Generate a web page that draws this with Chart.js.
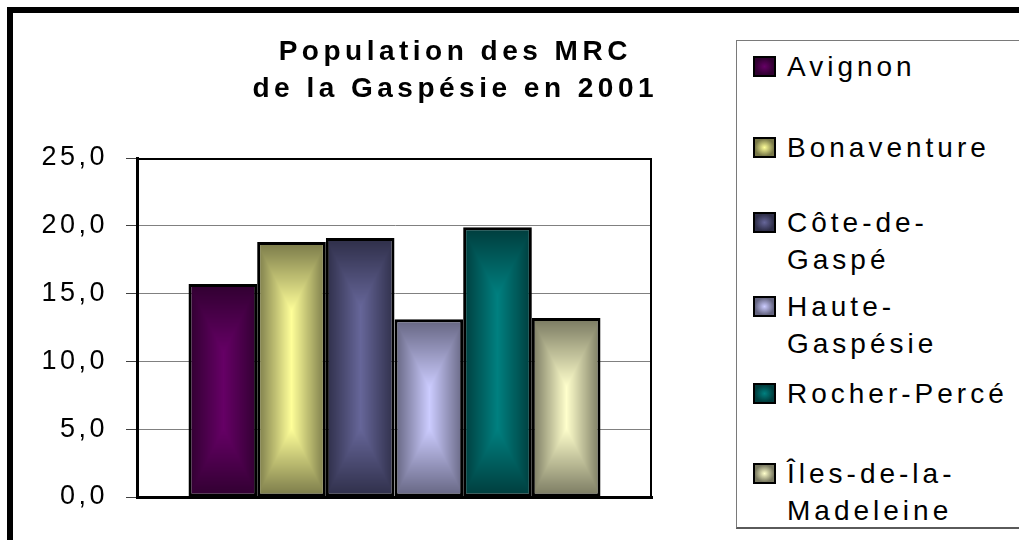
<!DOCTYPE html>
<html lang="fr">
<head>
<meta charset="utf-8">
<title>Population des MRC de la Gaspésie en 2001</title>
<script src="https://cdn.jsdelivr.net/npm/chart.js@4.4.1/dist/chart.umd.min.js"></script>
<style>
    html, body { margin: 0; padding: 0; background: #fff; overflow: hidden; }
    #wrap { position: relative; width: 1019px; height: 540px; overflow: hidden; background: #fff; }
    #chart { position: absolute; left: 0; top: 0; }
    #frame { position: absolute; left: 7px; top: 7px; width: 1100px; height: 600px; border: 6px solid #000; box-sizing: border-box; pointer-events: none; }
    #legend {
        position: absolute; left: 736px; top: 40px; width: 320px; height: 489px;
        border: 1px solid #7a7a7a; border-bottom: 2px solid #5a5a5a; box-sizing: border-box; background: #fff;
        font-family: "Liberation Sans", Arial, sans-serif; font-size: 28px; letter-spacing: 4px; color: #000;
    }
    .legend-item { position: absolute; left: 50px; width: 228px; line-height: 37px; }
    .legend-swatch { position: absolute; left: -34px; top: 8px; width: 23px; height: 21px; border: 2px solid #000; box-sizing: border-box; }
</style>
</head>
<body>
<div id="wrap">
    <canvas id="chart" width="1019" height="540"></canvas>
    <div id="legend"></div>
    <div id="frame"></div>
</div>
<script>
// --- data ---
const regions = ['Avignon', 'Bonaventure', 'Côte-de-Gaspé', 'Haute-Gaspésie', 'Rocher-Percé', 'Îles-de-la-Madeleine'];
const populationShare = [15.7, 18.8, 19.1, 13.1, 19.9, 13.2];
const yTicks = [0, 5, 10, 15, 20, 25];
const titleLines = ['Population des MRC', 'de la Gaspésie en 2001'];

// --- styles ---
const lightColors = [[102, 0, 102], [255, 255, 153], [102, 102, 153], [204, 204, 255], [0, 128, 128], [255, 255, 204]];
const darkColors = [[48, 0, 48], [120, 120, 72], [46, 46, 72], [100, 100, 128], [0, 60, 60], [120, 120, 96]];
const legendLineY = [66, 147, 222, 306, 393, 473]; // centre of first text line of each entry
const CAT_PCT = 0.8;

const rgb = c => `rgb(${c[0]},${c[1]},${c[2]})`;

// Excel style "from centre" shading, rebuilt for each bar from the scales
const patternCache = {};
function makeShade(ctx, i, w, h) {
    const key = i + ':' + w + ':' + h;
    if (patternCache[key]) return patternCache[key];
    const off = document.createElement('canvas');
    off.width = w; off.height = h;
    const octx = off.getContext('2d');
    const img = octx.createImageData(w, h);
    const lo = lightColors[i], hi = darkColors[i];
    const hw = w / 2;
    for (let y = 0; y < h; y++) {
        const edge = Math.min(y + 0.5, h - y - 0.5);
        const dy = Math.max(0, 1 - edge / w);
        for (let x = 0; x < w; x++) {
            const dx = Math.abs(x + 0.5 - hw) / hw;
            const t = Math.min(1, Math.max(dx, dy));
            const p = (y * w + x) * 4;
            img.data[p] = lo[0] + (hi[0] - lo[0]) * t;
            img.data[p + 1] = lo[1] + (hi[1] - lo[1]) * t;
            img.data[p + 2] = lo[2] + (hi[2] - lo[2]) * t;
            img.data[p + 3] = 255;
        }
    }
    octx.putImageData(img, 0, 0);
    const pat = ctx.createPattern(off, 'no-repeat');
    patternCache[key] = pat;
    return pat;
}

function shadeBar(context) {
    const chart = context.chart;
    const i = context.datasetIndex;
    const xs = chart.scales.x, ys = chart.scales.y;
    if (!xs || !ys || !chart.chartArea || typeof context.raw !== 'number') return rgb(lightColors[i]);
    const n = chart.data.datasets.length;
    const total = xs.width * CAT_PCT;
    const bw = total / n;
    const left = xs.getPixelForValue(0) - total / 2 + i * bw;
    const top = ys.getPixelForValue(context.raw);
    const bottom = ys.getPixelForValue(0);
    const w = Math.max(1, Math.round(bw));
    const h = Math.max(1, Math.round(bottom - top));
    const pat = makeShade(chart.ctx, i, w, h);
    pat.setTransform(new DOMMatrix([1, 0, 0, 1, Math.round(left), Math.round(top)]));
    return pat;
}

// letter spacing like the original rendering + plot frame + title
const textSpacing = {
    id: 'textSpacing',
    beforeDraw(chart) { chart.ctx.letterSpacing = '3.5px'; }
};

const plotFrame = {
    id: 'plotFrame',
    beforeDatasetsDraw(chart) {
        const a = chart.chartArea, ctx = chart.ctx;
        ctx.save();
        ctx.strokeStyle = '#000';
        ctx.lineWidth = 2;
        ctx.beginPath();
        ctx.moveTo(a.left, a.top + 1);
        ctx.lineTo(a.right - 1, a.top + 1);
        ctx.lineTo(a.right - 1, a.bottom);
        ctx.stroke();
        ctx.restore();
    }
};

const twoLineTitle = {
    id: 'twoLineTitle',
    afterDraw(chart) {
        const ctx = chart.ctx;
        ctx.save();
        ctx.font = 'bold 28px "Liberation Sans", Arial, sans-serif';
        ctx.letterSpacing = '4.5px';
        ctx.fillStyle = '#000';
        ctx.textAlign = 'center';
        ctx.textBaseline = 'alphabetic';
        titleLines.forEach((line, k) => ctx.fillText(line, 453 + 2.25, 60 + k * 37));
        ctx.restore();
    }
};

const datasets = regions.map((name, i) => ({
    label: name,
    data: [populationShare[i]],
    backgroundColor: shadeBar,
    borderColor: '#000',
    borderWidth: 3,
    borderSkipped: false,
    categoryPercentage: CAT_PCT,
    barPercentage: 1
}));

new Chart(document.getElementById('chart'), {
    type: 'bar',
    data: { labels: [''], datasets: datasets },
    options: {
        responsive: false,
        animation: false,
        events: [],
        layout: { padding: { left: 14, right: 367, top: 158, bottom: 43 } },
        plugins: {
            legend: { display: false },
            tooltip: { enabled: false },
            title: { display: false }
        },
        scales: {
            x: {
                ticks: { display: false },
                grid: { display: false, drawTicks: false },
                border: { display: true, color: '#000', width: 3 }
            },
            y: {
                min: yTicks[0],
                max: yTicks[yTicks.length - 1],
                afterBuildTicks: scale => { scale.ticks = yTicks.map(v => ({ value: v })); },
                afterFit: scale => { scale.width = 123; },
                ticks: {
                    padding: 18,
                    color: '#000',
                    font: { family: '"Liberation Sans", Arial, sans-serif', size: 27 },
                    callback: v => v.toFixed(1).replace('.', ',')
                },
                grid: { color: '#808080', lineWidth: 1, tickLength: 11, tickColor: '#404040' },
                border: { display: true, color: '#000', width: 3 }
            }
        }
    },
    plugins: [textSpacing, plotFrame, twoLineTitle]
});

// legend, built from the same arrays
const legendBox = document.getElementById('legend');
regions.forEach((name, i) => {
    const item = document.createElement('div');
    item.className = 'legend-item';
    item.style.top = (legendLineY[i] - 18.5 - 41) + 'px';
    const sw = document.createElement('span');
    sw.className = 'legend-swatch';
    sw.style.background = `radial-gradient(closest-side, ${rgb(lightColors[i])}, ${rgb(darkColors[i])})`;
    item.appendChild(sw);
    item.appendChild(document.createTextNode(name));
    legendBox.appendChild(item);
});
</script>
</body>
</html>
